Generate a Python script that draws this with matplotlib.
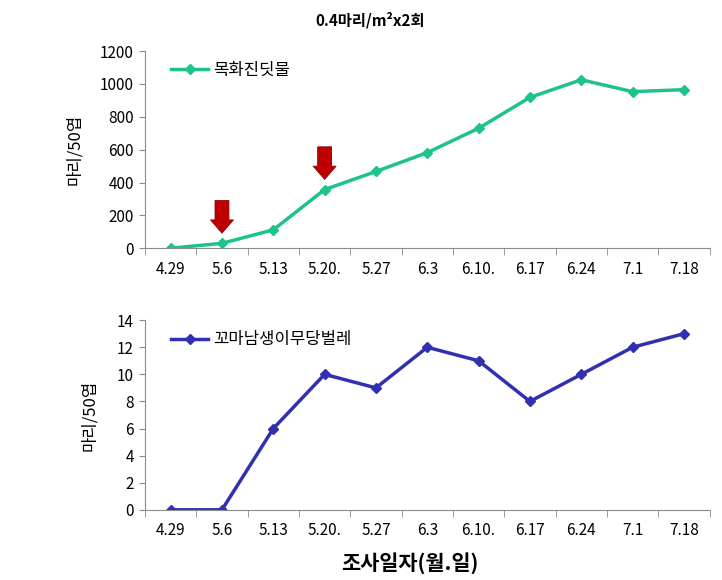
import numpy as np
import matplotlib.pyplot as plt

plt.rcParams['font.family'] = ['Noto Sans CJK KR', 'DejaVu Sans']

dates = ['4.29', '5.6', '5.13', '5.20.', '5.27', '6.3', '6.10.', '6.17', '6.24', '7.1', '7.18']
aphid = [0, 30, 112, 357, 467, 582, 730, 918, 1025, 953, 965]
ladybird = [0, 0, 6, 10, 9, 12, 11, 8, 10, 12, 13]
# release dates (arrow tips sit above these points)
release_idx = [1, 3]

green = '#1DC28F'
blue = '#3030B0'
grey = '#8C8C8C'

x = np.arange(len(dates))

fig = plt.figure(figsize=(7.22, 5.8), dpi=100)
ax1 = fig.add_axes([0.2008, 0.572, 0.782, 0.34])
ax2 = fig.add_axes([0.2008, 0.121, 0.782, 0.327])

def style(ax, ymax, ystep, label_x):
    ax.set_xlim(-0.5, len(dates) - 0.5)
    ax.set_ylim(0, ymax)
    ax.set_yticks(np.arange(0, ymax + 1, ystep))
    ax.set_xticks(x)
    ax.set_xticklabels(dates)
    ax.set_xticks(np.arange(-0.5, len(dates), 1), minor=True)
    ax.tick_params(axis='x', which='major', length=0, pad=9, labelsize=11)
    ax.tick_params(axis='x', which='minor', length=5, color=grey, direction='out')
    ax.tick_params(axis='y', length=4, color=grey, direction='out', labelsize=11, pad=4)
    for s in ['top', 'right']:
        ax.spines[s].set_visible(False)
    for s in ['left', 'bottom']:
        ax.spines[s].set_color(grey)
    ax.set_ylabel('마리/50엽', fontsize=12)
    ax.yaxis.set_label_coords(label_x, 0.5)

ax1.plot(x, aphid, color=green, lw=2.5, marker='D', ms=5, label='목화진딧물')
style(ax1, 1200, 200, -0.11)
ax1.legend(loc='upper left', frameon=False, fontsize=12, handlelength=2.2,
           bbox_to_anchor=(0.02, 1.02), handletextpad=0.3)

for i in release_idx:
    ax1.annotate('', xy=(x[i], aphid[i] + 62), xytext=(x[i], aphid[i] + 260),
                 arrowprops=dict(arrowstyle='simple,head_width=1.65,head_length=0.95,tail_width=1.0',
                                 fc='#C00000', ec='#8A0000', lw=0.6,
                                 shrinkA=0, shrinkB=0, mutation_scale=10))

ax2.plot(x, ladybird, color=blue, lw=2.5, marker='D', ms=5, label='꼬마남생이무당벌레')
style(ax2, 14, 2, -0.083)
ax2.legend(loc='upper left', frameon=False, fontsize=12, handlelength=2.2,
           bbox_to_anchor=(0.02, 1.02), handletextpad=0.3)

fig.text(0.512, 0.965, '0.4마리/m²x2회', ha='center', va='center', fontsize=11, fontweight='bold')
fig.text(0.568, 0.03, '조사일자(월.일)', ha='center', va='center', fontsize=15, fontweight='bold')

fig.savefig('out.png', dpi=100)
